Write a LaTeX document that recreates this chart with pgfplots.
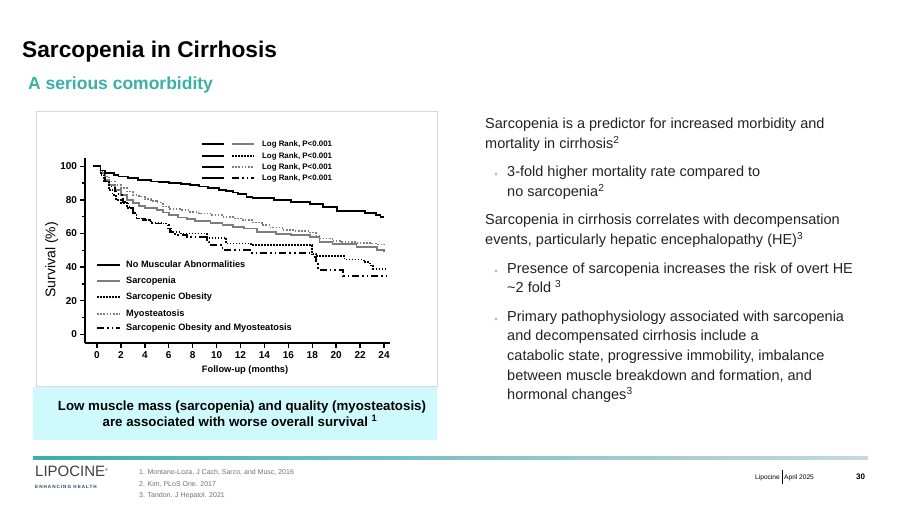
\documentclass[border=0pt]{standalone}
\usepackage{fontspec}
\setmainfont{Liberation Sans}
\usepackage{pgfplots}
\pgfplotsset{compat=1.18}

\definecolor{tealtxt}{RGB}{58,176,168}
\definecolor{boxcyan}{RGB}{206,250,253}
\definecolor{framegray}{RGB}{217,217,217}
\definecolor{curvegray}{RGB}{125,125,125}
\definecolor{bodytxt}{RGB}{35,35,35}
\definecolor{bulletc}{RGB}{175,190,205}
\definecolor{refgray}{RGB}{115,115,115}
\definecolor{logoblue}{RGB}{35,65,115}
\definecolor{lineend}{RGB}{200,214,224}

\newcommand\fsz[1]{\fontsize{#1}{#1}\selectfont}

% curve styles (line look only)
\tikzset{
  nma/.style={black, line width=1.8pt, solid},
  sar/.style={curvegray, line width=1.8pt, solid},
  so/.style={black, line width=1.8pt, dash pattern=on 1.6pt off 1.4pt},
  myo/.style={curvegray, line width=1.6pt, dash pattern=on 1.6pt off 1.6pt},
  somyo/.style={black, line width=1.8pt, dash pattern=on 7pt off 3pt on 1.6pt off 3pt on 1.6pt off 3pt},
}

\begin{document}
\begin{tikzpicture}[x=1pt,y=1pt]
\fill[white] (0,0) rectangle (900,506);
\path[use as bounding box] (0,0) rectangle (900,506);

% title
\node[anchor=base west, inner sep=0, font=\bfseries\fsz{22.7}] at (22,506-58) {Sarcopenia in Cirrhosis};
\node[anchor=base west, inner sep=0, font=\bfseries\fsz{17.5}, text=tealtxt] at (28,506-90) {A serious comorbidity};

% chart frame and caption box
\draw[framegray, line width=0.8pt, fill=white] (36,506-386) rectangle (437,506-111);
\fill[boxcyan] (33,506-440) rectangle (437,506-387);
\node[anchor=mid, inner sep=0, font=\bfseries\fsz{13.3}] at (242,506-408) {Low muscle mass (sarcopenia) and quality (myosteatosis)};
\node[anchor=mid, inner sep=0, font=\bfseries\fsz{13.3}] at (240,506-424) {are associated with worse overall survival \textsuperscript{1}};

\begin{axis}[
  at={(85pt,162.7pt)}, anchor=south west,
  scale only axis, width=305pt, height=185.3pt,
  xmin=-1, xmax=24.5, ymin=-5.4, ymax=105,
  axis lines=left, axis line style={-, line width=1.6pt},
  xtick={0,2,...,24}, ytick={0,20,...,100}, minor ytick={10,30,...,90},
  tick align=outside, major tick length=4.5pt, minor tick length=3pt,
  tick style={black, line width=1.4pt},
  ticklabel style={font=\bfseries\fsz{10}},
  /pgf/number format/assume math mode=true,
  xlabel={Follow-up (months)},
  xlabel style={font=\bfseries\fsz{9.3}, at={(axis description cs:0.525,-0.144)}, anchor=center},
  ylabel={Survival (\%)},
  ylabel style={font=\fsz{14}, at={(axis description cs:-0.109,0.45)}, anchor=center},
  clip=false,
]
% Myosteatosis
\addplot[myo, const plot] coordinates {
(0,100) (0.3,97) (0.7,94) (1,91) (1.5,89) (2,87) (2.5,85) (3,83) (3.5,82)
(4,80.5) (4.5,79.5) (5,78.5) (5.5,76) (6,74.5) (7,74) (7.8,73) (8.5,72)
(9.5,71) (10.5,70) (11.5,69) (12.2,68) (13,66.5) (13.8,65) (14.5,63.5)
(15.5,62) (16.5,61.5) (17.8,60.5) (18.3,58.5) (18.6,57.1) (19.7,55.5)
(20.5,55) (21.7,54.5) (23,54) (23.5,53.5) (24,53.2)
};
% Sarcopenia
\addplot[sar, const plot] coordinates {
(0,100) (0.3,96) (0.7,92) (1,89) (1.5,86) (2,83) (2.5,80) (3,78) (3.5,76.5)
(4,75) (5,74) (5.5,72.5) (6,71) (6.8,69.5) (7.5,68.5) (8.2,67.6) (9.5,66.4)
(10.5,65) (11.4,64) (12.3,63) (13.4,61) (15,59.7) (16.2,59) (17.8,58)
(18.6,55.1) (19.7,53.8) (21.7,52.2) (23.4,50.2) (24,49.2)
};
% Sarcopenic obesity
\addplot[so, const plot] coordinates {
(0,100) (0.3,95) (0.6,91) (1,86) (1.3,83) (1.6,80) (2,78) (2.5,75) (3,72)
(3.3,69) (3.8,68) (4.5,66.5) (5.5,66) (5.9,63) (6.2,61) (7,60) (9.2,57.5)
(10.8,54) (12.9,53) (18,48) (18.3,46.5) (20.7,44.5) (22.3,43) (22.8,41)
(23.1,39) (24.2,39)
};
% Sarcopenic obesity and myosteatosis
\addplot[somyo, const plot] coordinates {
(0,100) (0.3,96) (0.7,91) (1,88) (1.5,85) (1.8,83) (2.2,79) (2.6,76) (3,72)
(3.3,69) (4,68) (4.6,66) (5.9,65) (6.1,61) (6.5,59) (7.5,58) (9.2,55)
(9.4,53) (10.5,50) (12.8,48.6) (18,46) (18.3,42) (18.5,38.3) (20.6,34.7)
(24.2,34.7)
};
% No muscular abnormalities
\addplot[nma, const plot] coordinates {
(-0.3,100) (0.3,97.5) (0.7,96) (1.4,95) (1.8,94) (2.6,93) (3.4,92) (4.5,91)
(5.2,90.5) (6,90) (7,89.5) (7.8,89) (8.5,88) (9.3,87) (10.2,86) (10.8,85.3)
(11.4,84.5) (11.8,83.5) (12.5,82) (13,81) (14.8,80) (16.2,79) (17.8,77.5)
(18.9,75.8) (20.1,73.5) (22.4,72) (23.3,71) (23.7,70) (24,70)
};

% group key (lower left)
\draw[nma,   line width=2.2pt] (rel axis cs:0.0393,0.4226) -- (rel axis cs:0.1148,0.4226);
\draw[sar,   line width=2.2pt] (rel axis cs:0.0393,0.3362) -- (rel axis cs:0.1148,0.3362);
\draw[so,    line width=2.2pt] (rel axis cs:0.0393,0.2499) -- (rel axis cs:0.1148,0.2499);
\draw[myo,   line width=2.0pt] (rel axis cs:0.0393,0.1581) -- (rel axis cs:0.1148,0.1581);
\draw[somyo, line width=2.2pt] (rel axis cs:0.0393,0.0826) -- (rel axis cs:0.1148,0.0826);
\begin{scope}[every node/.style={anchor=mid west, inner sep=0, font=\bfseries\fsz{9.2}}]
\node at (rel axis cs:0.1344,0.4226) {No Muscular Abnormalities};
\node at (rel axis cs:0.1344,0.3362) {Sarcopenia};
\node at (rel axis cs:0.1344,0.2499) {Sarcopenic Obesity};
\node at (rel axis cs:0.1344,0.1581) {Myosteatosis};
\node at (rel axis cs:0.1344,0.0826) {Sarcopenic Obesity and Myosteatosis};
\end{scope}

% log-rank key
\draw[nma] (rel axis cs:0.384,1.0756) -- (rel axis cs:0.456,1.0756);
\draw[sar] (rel axis cs:0.482,1.0756) -- (rel axis cs:0.554,1.0756);
\draw[nma] (rel axis cs:0.384,1.0108) -- (rel axis cs:0.456,1.0108);
\draw[so] (rel axis cs:0.482,1.0108) -- (rel axis cs:0.554,1.0108);
\draw[nma] (rel axis cs:0.384,0.951) -- (rel axis cs:0.456,0.951);
\draw[myo] (rel axis cs:0.482,0.951) -- (rel axis cs:0.554,0.951);
\draw[nma] (rel axis cs:0.384,0.892) -- (rel axis cs:0.456,0.892);
\draw[somyo] (rel axis cs:0.482,0.892) -- (rel axis cs:0.554,0.892);
\begin{scope}[every node/.style={anchor=mid west, inner sep=0, font=\bfseries\fsz{7.9}}]
\node at (rel axis cs:0.580,1.0756) {Log Rank, P<0.001};
\node at (rel axis cs:0.580,1.0108) {Log Rank, P<0.001};
\node at (rel axis cs:0.580,0.951) {Log Rank, P<0.001};
\node at (rel axis cs:0.580,0.892) {Log Rank, P<0.001};
\end{scope}
\end{axis}

% right-hand text
\begin{scope}[every node/.style={anchor=mid west, inner sep=0, font=\fsz{14.5}, text=bodytxt}]
\node at (485,506-126) {Sarcopenia is a predictor for increased morbidity and};
\node at (485,506-146) {mortality in cirrhosis\textsuperscript{2}};
\node at (507,506-174) {3-fold higher mortality rate compared to};
\node at (507,506-194) {no sarcopenia\textsuperscript{2}};
\node at (485,506-222) {Sarcopenia in cirrhosis correlates with decompensation};
\node at (485,506-242) {events, particularly hepatic encephalopathy (HE)\textsuperscript{3}};
\node at (507,506-271) {Presence of sarcopenia increases the risk of overt HE};
\node at (507,506-290) {\textasciitilde2 fold \textsuperscript{3}};
\node at (507,506-319) {Primary pathophysiology associated with sarcopenia};
\node at (507,506-338) {and decompensated cirrhosis include a};
\node at (507,506-358) {catabolic state, progressive immobility, imbalance};
\node at (507,506-378) {between muscle breakdown and formation, and};
\node at (507,506-397) {hormonal changes\textsuperscript{3}};
\end{scope}
\foreach \yy in {174,271,319}{\fill[bulletc] (496,506-\yy) circle (1.6);}

% footer
\shade[left color=tealtxt, right color=lineend] (33,506-459.5) rectangle (868,506-456.5);
\node[anchor=base west, inner sep=0, font=\fsz{15}, text=black!75] at (35,506-477) {LIPOCINE\textsuperscript{\fsz{4}®}};
\node[anchor=base west, inner sep=0, font=\bfseries\fsz{4.6}\addfontfeature{LetterSpace=22}, text=logoblue] at (35,506-489) {ENHANCING HEALTH};
\begin{scope}[every node/.style={anchor=mid west, inner sep=0, font=\fsz{7}, text=refgray}]
\node at (139,506-472) {1. Montano-Loza, J Cach, Sarco, and Musc, 2016};
\node at (139,506-483.5) {2. Kim, PLoS One. 2017};
\node at (139,506-495) {3. Tandon. J Hepatol. 2021};
\end{scope}
\node[anchor=mid east, inner sep=0, font=\fsz{6.6}] at (780,506-477) {Lipocine};
\draw[line width=0.6pt] (782,506-470.5) -- (782,506-484);
\node[anchor=mid west, inner sep=0, font=\fsz{6.6}] at (784,506-477) {April 2025};
\node[anchor=mid west, inner sep=0, font=\bfseries\fsz{8}] at (856,506-477) {30};
\end{tikzpicture}
\end{document}
